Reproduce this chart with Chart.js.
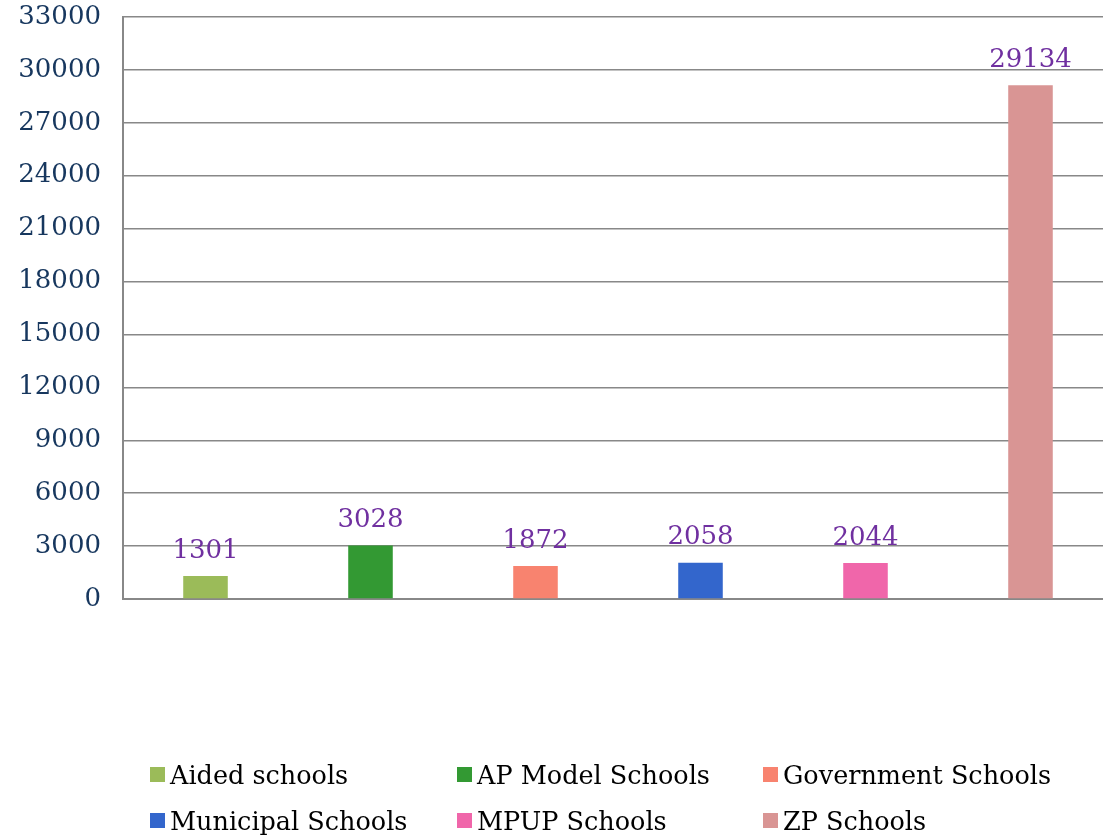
<!DOCTYPE html>
<html>
<head>
<meta charset="utf-8">
<script src="https://cdn.jsdelivr.net/npm/chart.js@4/dist/chart.umd.min.js"></script>
<style>
  html, body { margin: 0; padding: 0; background: #fff; overflow: hidden; }
  #wrap { position: relative; width: 1103px; height: 838px; overflow: hidden; }
  #legend {
    position: absolute; left: 150px; top: 757px;
    display: grid; grid-template-columns: 307px 306px 340px; row-gap: 11px;
    font-family: "DejaVu Serif", serif; font-size: 25.5px; color: #000;
  }
  #legend div { display: flex; align-items: center; white-space: nowrap; height: 35px; }
  #legend span.box { width: 15px; height: 15px; margin-right: 5px; display: inline-block; }
</style>
</head>
<body>
<div id="wrap">
  <canvas id="schoolChart" width="1113" height="838"></canvas>
  <div id="legend"></div>
</div>
<script>
const categories = ["Aided schools", "AP Model Schools", "Government Schools", "Municipal Schools", "MPUP Schools", "ZP Schools"];
const schoolCounts = [1301, 3028, 1872, 2058, 2044, 29134];
const barColors = ["#9BBB59", "#339933", "#F8836F", "#3366CC", "#F066AA", "#D99594"];
const yTicks = [0, 3000, 6000, 9000, 12000, 15000, 18000, 21000, 24000, 27000, 30000, 33000];

const fontFamily = "'DejaVu Serif', serif";

const valueLabels = {
  id: "valueLabels",
  afterDatasetsDraw(chart) {
    const ctx = chart.ctx;
    const meta = chart.getDatasetMeta(0);
    ctx.save();
    ctx.font = `26px ${fontFamily}`;
    ctx.fillStyle = "#7030A0";
    ctx.textAlign = "center";
    ctx.textBaseline = "bottom";
    meta.data.forEach((bar, i) => {
      ctx.fillText(String(schoolCounts[i]), bar.x, bar.y - 12);
    });
    ctx.restore();
  },
};

const canvas = document.getElementById("schoolChart");
new Chart(canvas.getContext("2d"), {
  type: "bar",
  data: {
    labels: categories,
    datasets: [
      {
        label: "Schools",
        data: schoolCounts,
        backgroundColor: barColors,
        barPercentage: 0.27,
        categoryPercentage: 1,
      },
    ],
  },
  options: {
    responsive: false,
    animation: false,
    layout: { padding: { top: 17, right: 0, bottom: 239, left: 0 } },
    plugins: {
      legend: { display: false },
      tooltip: { enabled: false },
    },
    scales: {
      x: {
        ticks: { display: false },
        grid: { display: false, drawTicks: false },
        border: { display: true, color: "#888", width: 2 },
      },
      y: {
        min: 0,
        max: 33000,
        afterBuildTicks: (scale) => {
          scale.ticks = yTicks.map((v) => ({ value: v }));
        },
        afterFit: (scale) => {
          scale.width = 123;
          scale.paddingTop = 0;
          scale.paddingBottom = 0;
        },
        ticks: {
          color: "#17375E",
          font: { family: fontFamily, size: 26 },
          padding: 22,
          callback: (value) => String(value),
        },
        grid: { color: "#888", lineWidth: 1.5, drawTicks: false },
        border: { display: true, color: "#888", width: 2 },
      },
    },
  },
  plugins: [valueLabels],
});

const legendEl = document.getElementById("legend");
categories.forEach((name, i) => {
  const item = document.createElement("div");
  item.innerHTML = `<span class="box" style="background:${barColors[i]}"></span>${name}`;
  legendEl.appendChild(item);
});
</script>
</body>
</html>
